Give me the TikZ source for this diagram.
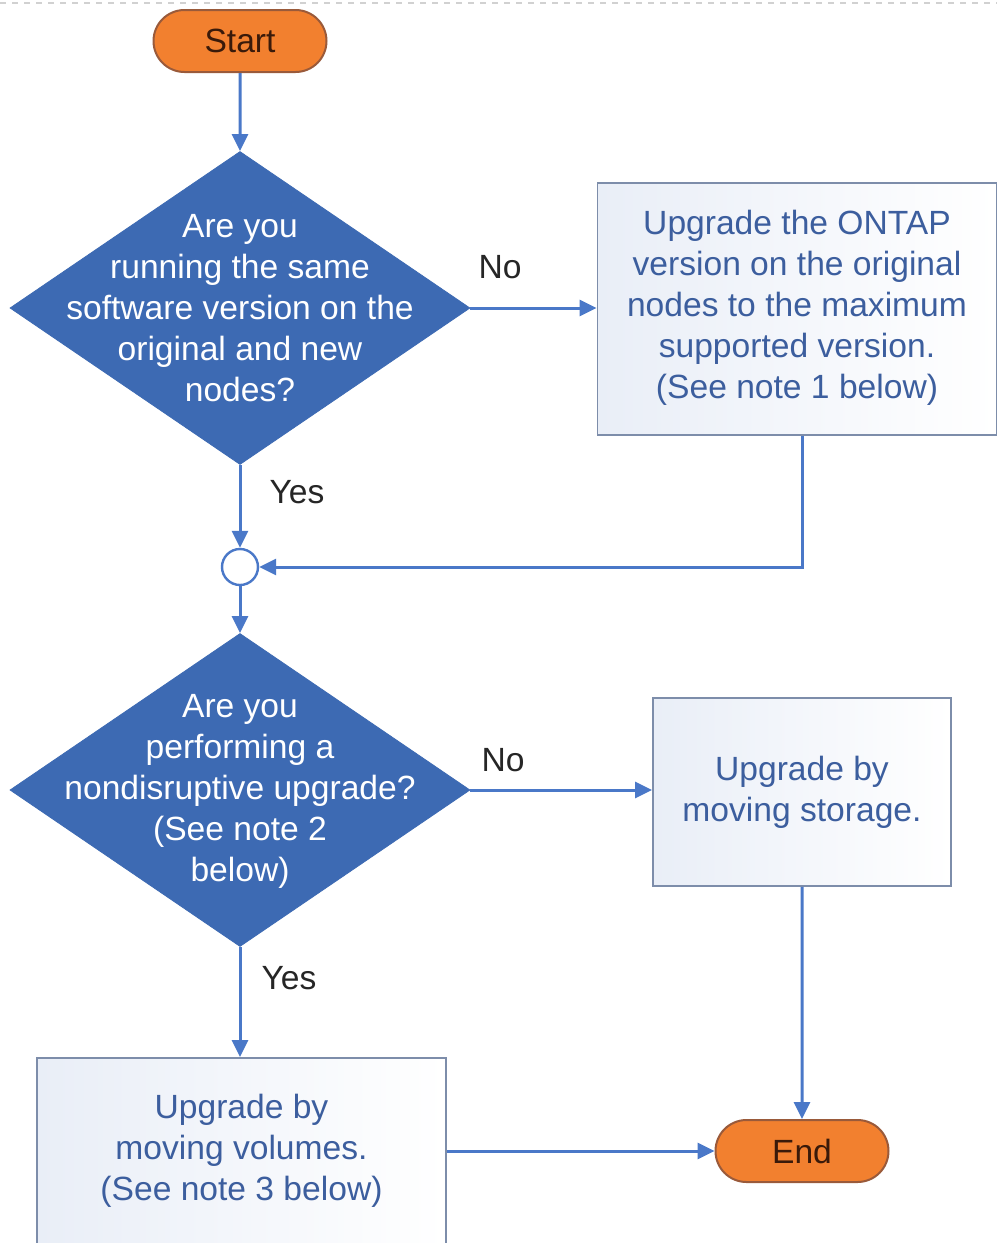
\documentclass[tikz,border=0pt]{standalone}
\usepackage{fontspec}
\setmainfont{Liberation Sans}
\usetikzlibrary{shapes.geometric,shapes.misc,arrows.meta}
\definecolor{dblue}{HTML}{3D6AB3}
\definecolor{lblue}{HTML}{4A78C8}
\definecolor{boxedge}{HTML}{7D8DAA}
\definecolor{boxtxt}{HTML}{3C5E9E}
\definecolor{boxfillL}{HTML}{E9EEF7}
\definecolor{orng}{HTML}{F2802F}
\definecolor{orngedge}{HTML}{9A5A3A}
\definecolor{termtxt}{HTML}{3A1A0A}
\tikzset{
  fnt/.style={font=\fontsize{16.8}{20.5}\selectfont},
  term/.style={rounded rectangle, draw=orngedge, line width=1pt, fill=orng, minimum width=86.5pt, minimum height=31pt, inner sep=0pt, fnt, text=termtxt},
  dia/.style={diamond, fill=dblue, draw=dblue, minimum width=230pt, minimum height=156.5pt, inner sep=0pt},
  diatext/.style={fnt, text=white, align=center},
  procbox/.style={draw=boxedge, line width=0.9pt, left color=boxfillL, right color=white, inner sep=0pt},
  boxtext/.style={fnt, text=boxtxt, align=center},
  lbl/.style={fnt, text=black!85},
  arr/.style={draw=lblue, line width=1.5pt, -{Triangle[length=8.5pt,width=8pt]}},
  joint/.style={circle, draw=lblue, line width=1.2pt, fill=white, minimum size=18pt, inner sep=0pt}
}
\begin{document}
\begin{tikzpicture}[x=0.5pt, y=-0.5pt]
\useasboundingbox (0,0) rectangle (997,1243);
\fill[white] (0,0) rectangle (997,1243);
\draw[black!18, dashed, line width=0.6pt] (0,3) -- (997,3);

\node[term] (s) at (240,41) {Start};

\node[dia] (d1) at (240,308) {};
\node[diatext] (d1t) at (240,308) {Are you\\running the same\\software version on the\\original and new\\nodes?};

\node[procbox, minimum width=199.5pt, minimum height=126pt] (b1) at (797,309) {};
\node[boxtext] (b1t) at (797,308) {Upgrade the ONTAP\\version on the original\\nodes to the maximum\\supported version.\\(See note 1 below)};

\node[joint] (c) at (240,567) {};

\node[dia] (d2) at (240,790) {};
\node[diatext] (d2t) at (240,791) {Are you\\performing a\\nondisruptive upgrade?\\(See note 2\\below)};

\node[procbox, minimum width=149pt, minimum height=94pt] (b2) at (802,792) {};
\node[boxtext] (b2t) at (802,792) {Upgrade by\\moving storage.};

\node[procbox, minimum width=204.5pt, minimum height=100pt] (b3) at (241.5,1158) {};
\node[boxtext] (b3t) at (241.5,1151) {Upgrade by\\moving volumes.\\(See note 3 below)};

\node[term] (e) at (802,1151) {End};

\node[lbl] (no1) at (500,267) {No};
\node[lbl] (yes1) at (297,492) {Yes};
\node[lbl] (no2) at (503,760) {No};
\node[lbl] (yes2) at (289,978) {Yes};

\draw[arr] (s) -- (d1);
\draw[arr] (d1.east) -- (b1.west |- d1.east);
\draw[arr] (d1) -- (c);
\draw[arr] (b1.south -| b2.south) |- (c.east);
\draw[arr] (c) -- (d2);
\draw[arr] (d2.east) -- (b2.west |- d2.east);
\draw[arr] (d2.south) -- (d2.south |- b3.north);
\draw[arr] (b2) -- (e);
\draw[arr] (b3.east |- e.west) -- (e.west);
\end{tikzpicture}
\end{document}
